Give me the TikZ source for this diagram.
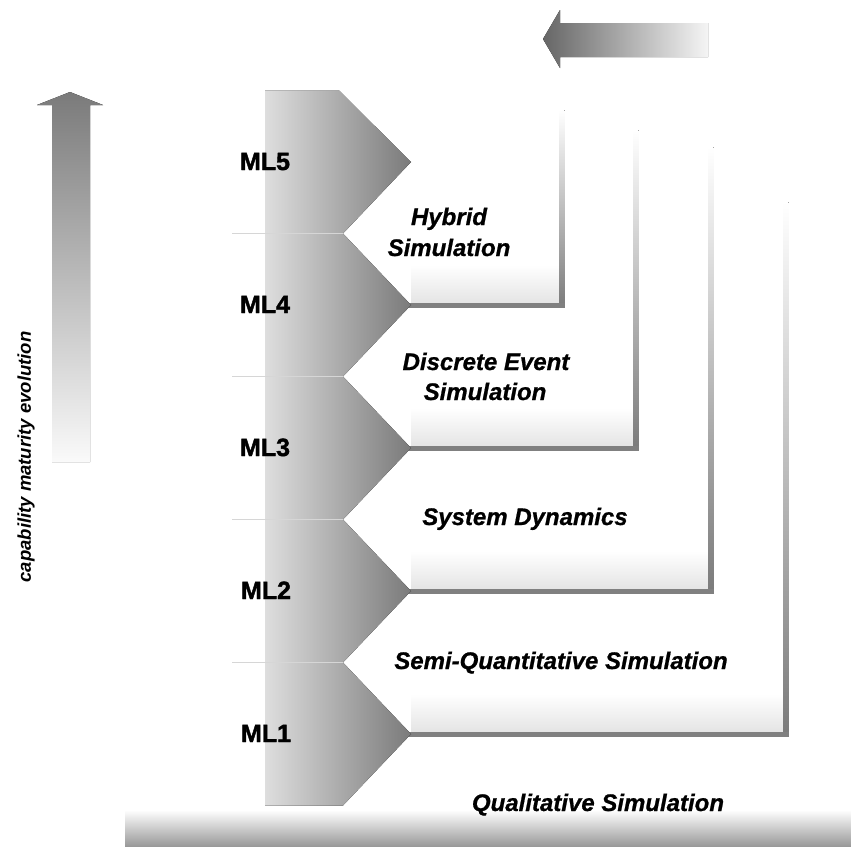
\documentclass[tikz,border=0pt]{standalone}
\usepackage{fontspec}
\setmainfont{Liberation Sans}
\newfontfamily\heavysans[FakeBold=1.6]{Liberation Sans Bold}
\newfontfamily\heavyital[FakeBold=0.8]{Liberation Sans Bold Italic}
\begin{document}
\begin{tikzpicture}[x=1pt,y=-1pt,
  mlabel/.style={font=\fontsize{25}{28}\heavysans, anchor=base, inner sep=0pt},
  method/.style={font=\fontsize{24}{30}\heavyital, anchor=base, inner sep=0pt},
  axislabel/.style={font=\fontsize{18.5}{22}\selectfont\bfseries\itshape, rotate=90, inner sep=0pt},
  edgeline/.style={draw=none, top color=white, middle color=black!36, bottom color=black!52},
  floorline/.style={line width=5pt, draw=black!50},
  grain/.style={draw=none, top color=white, bottom color=black!11},
  seam/.style={line width=1.2pt, draw=black!16}]
\useasboundingbox (0,0) rectangle (851,846);

% ground band under the lowest level
\fill[top color=white, bottom color=black!40] (125,810) rectangle (851,846);

% top-right arrow pointing left
\fill[left color=black!60, right color=black!4]
  (543,39) -- (560,10) -- (560,23) -- (708,23) -- (708,57) -- (560,57) -- (560,68) -- cycle;

% vertical arrow: capability maturity evolution
\fill[top color=black!52, middle color=black!30, bottom color=black!2]
  (70,92) -- (103,105) -- (90,105) -- (90,462) -- (52,462) -- (52,105) -- (37,105) -- cycle;
\node[axislabel] (evo) at (26,457) {capability maturity evolution};

% level boxes: light grain above the floor, floor line and fading right edge
\foreach \ty/\rx/\tp in {305/562/110, 448/636/130, 591/711/147, 734/786/202}{
  \fill[grain] (411,\ty-40) rectangle (\rx,\ty);
  \fill[edgeline] (\rx-2.5,\tp) rectangle (\rx+2.5,\ty+2.5);
  \draw[floorline] (405,\ty) -- (\rx+2.5,\ty);
}

% stack of maturity chevrons
\fill[left color=black!13, right color=black!52]
  (265,90.5) -- (339,90.5) -- (411,162) -- (343,233.5) -- (411,305)
  -- (343,376.5) -- (411,448) -- (343,519.5) -- (411,591)
  -- (343,662.5) -- (411,734) -- (343,805.5) -- (265,805.5) -- cycle;
\foreach \ny in {233.5,376.5,519.5,662.5}
  \draw[seam] (232,\ny) -- (343,\ny);

% maturity levels
\node[mlabel] (ml5) at (265,170) {ML5};
\node[mlabel] (ml4) at (265,313) {ML4};
\node[mlabel] (ml3) at (265,456) {ML3};
\node[mlabel] (ml2) at (266,599) {ML2};
\node[mlabel] (ml1) at (266,742) {ML1};

% simulation approaches
\node[method] (hyb1) at (449,225) {Hybrid};
\node[method] (hyb2) at (449,256) {Simulation};
\node[method] (des1) at (486,370) {Discrete Event};
\node[method] (des2) at (485,400) {Simulation};
\node[method] (sd)   at (525,525) {System Dynamics};
\node[method] (sq)   at (561,669) {Semi-Quantitative Simulation};
\node[method] (qs)   at (598,811) {Qualitative Simulation};
\end{tikzpicture}
\end{document}
